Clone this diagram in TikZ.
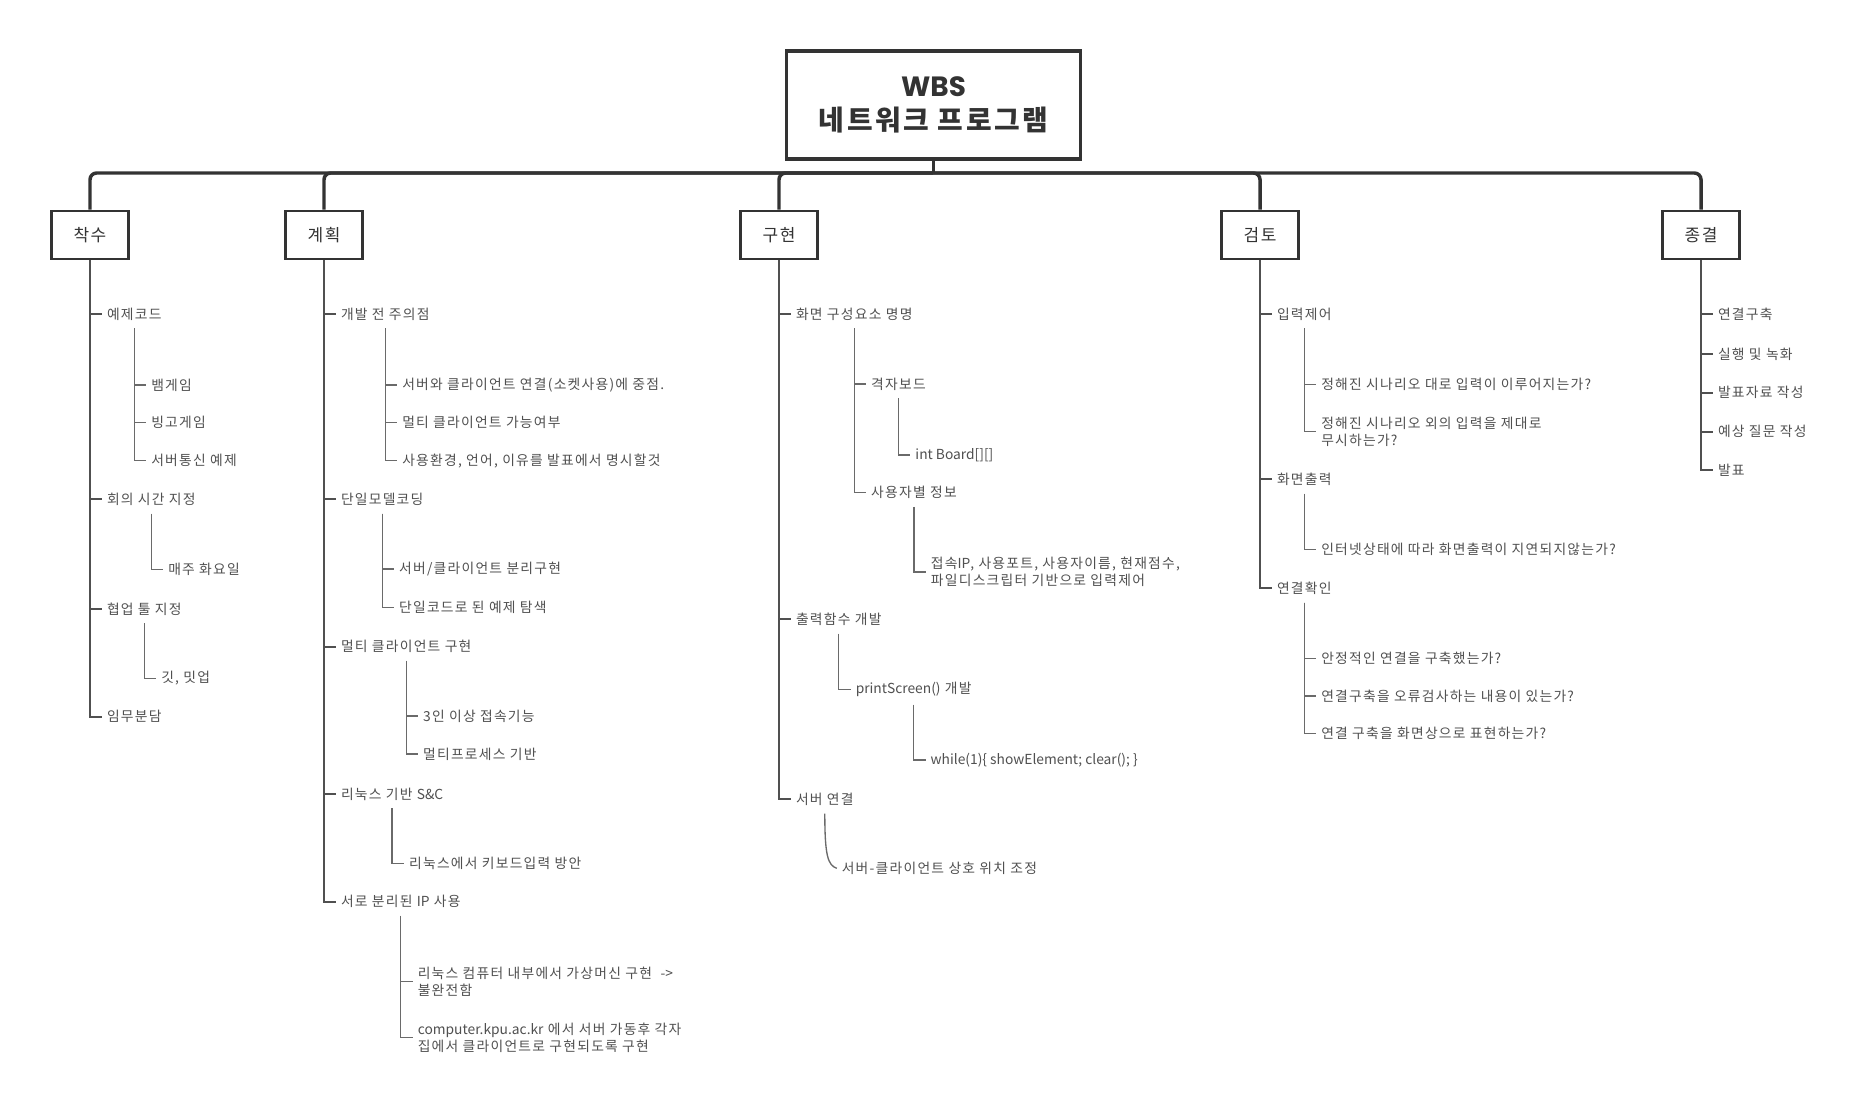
\documentclass[tikz,border=0pt]{standalone}
\usepackage{fontspec}
\setmainfont{Noto Sans CJK KR}[LetterSpace=9]
\newfontfamily\latf{Noto Sans CJK KR}
\newfontfamily\wbsf{Poppins}
\newcommand\lat[1]{{\latf #1}}
\usetikzlibrary{calc}
\definecolor{txt}{HTML}{505050}
\definecolor{dark}{HTML}{333333}
\definecolor{stemc}{HTML}{505050}
\definecolor{subc}{HTML}{6A6A6A}
\tikzset{
  rootbox/.style={draw=dark, line width=2.3pt, fill=white, minimum width=221pt, minimum height=81pt, align=center, font=\fontsize{20.9}{26}\selectfont\bfseries, text=dark, inner sep=0pt},
  catbox/.style={draw=dark, line width=1.9pt, fill=white, minimum width=57.5pt, minimum height=36pt, font=\fontsize{12.75}{15}\selectfont, text=dark, inner sep=0pt},
  it/.style={anchor=west, inner sep=0pt, outer xsep=3.75pt, outer ysep=6pt, font=\fontsize{10.35}{13.1}\selectfont, text=txt, align=left},
  busline/.style={draw=dark, line width=2.6pt, rounded corners=5pt},
  stemline/.style={draw=stemc, line width=1.3pt},
  subline/.style={draw=subc, line width=1pt},
}
\begin{document}
\begin{tikzpicture}[x=0.75pt,y=-0.75pt]
\fill[white] (0,0) rectangle (1865,1112);
\useasboundingbox (0,0) rectangle (1865,1112);

% root and categories
\node[rootbox] (root) at (933.5,105) {{\wbsf\bfseries WBS}\\네트워크 프로그램};
\coordinate (bus) at (933.5,173);
\node[catbox] (c1) at (90,235) {착수};
\node[catbox] (c2) at (324,235) {계획};
\node[catbox] (c3) at (779,235) {구현};
\node[catbox] (c4) at (1260,235) {검토};
\node[catbox] (c5) at (1701,235) {종결};

\draw[line width=2pt, draw=dark] (root.south) -- (bus);
\foreach \c in {c1,c2,c3,c4,c5} \draw[busline] (bus) -| (\c.north);

% 착수
\node[it] (a1) at (102,314) {예제코드};
\node[it] (a11) at ($(a1.south |- 0,385)+(12,0)$) {뱀게임};
\node[it] (a12) at ($(a1.south |- 0,422.7)+(12,0)$) {빙고게임};
\node[it] (a13) at ($(a1.south |- 0,460.7)+(12,0)$) {서버통신 예제};
\node[it] (a2) at (102,499.3) {회의 시간 지정};
\node[it] (a21) at ($(a2.south |- 0,569.3)+(12,0)$) {매주 화요일};
\node[it] (a3) at (102,609) {협업 툴 지정};
\node[it] (a31) at ($(a3.south |- 0,678.3)+(12,0)$) {깃, 밋업};
\node[it] (a4) at (102,716.7) {임무분담};
\foreach \n in {a1,a2,a3,a4} \draw[stemline] (c1.south) |- (\n.west);
\foreach \n in {a11,a12,a13} \draw[subline] (a1.south) |- (\n.west);
\draw[subline] (a2.south) |- (a21.west);
\draw[subline] (a3.south) |- (a31.west);

% 계획
\node[it] (b1) at (336,314) {개발 전 주의점};
\node[it] (b11) at ($(b1.south |- 0,385)+(12,0)$) {서버와 클라이언트 연결(소켓사용)에 중점.};
\node[it] (b12) at ($(b1.south |- 0,422.7)+(12,0)$) {멀티 클라이언트 가능여부};
\node[it] (b13) at ($(b1.south |- 0,460.7)+(12,0)$) {사용환경, 언어, 이유를 발표에서 명시할것};
\node[it] (b2) at (336,499.3) {단일모델코딩};
\node[it] (b21) at ($(b2.south |- 0,569)+(12,0)$) {서버/클라이언트 분리구현};
\node[it] (b22) at ($(b2.south |- 0,607.3)+(12,0)$) {단일코드로 된 예제 탐색};
\node[it] (b3) at (336,646.7) {멀티 클라이언트 구현};
\node[it] (b31) at ($(b3.south |- 0,716)+(12,0)$) {3인 이상 접속기능};
\node[it] (b32) at ($(b3.south |- 0,754)+(12,0)$) {멀티프로세스 기반};
\node[it] (b4) at (336,794) {리눅스 기반 \lat{S\&C}};
\node[it] (b41) at ($(b4.south |- 0,863.3)+(12,0)$) {리눅스에서 키보드입력 방안};
\node[it] (b5) at (336,901.7) {서로 분리된 \lat{IP} 사용};
\node[it] (b51) at ($(b5.south |- 0,981.5)+(12,0)$) {리눅스 컴퓨터 내부에서 가상머신 구현 \ \lat{->}\\불완전함};
\node[it] (b52) at ($(b5.south |- 0,1037.8)+(12,0)$) {\lat{computer.kpu.ac.kr} 에서 서버 가동후 각자\\집에서 클라이언트로 구현되도록 구현};
\foreach \n in {b1,b2,b3,b4,b5} \draw[stemline] (c2.south) |- (\n.west);
\foreach \n in {b11,b12,b13} \draw[subline] (b1.south) |- (\n.west);
\foreach \n in {b21,b22} \draw[subline] (b2.south) |- (\n.west);
\foreach \n in {b31,b32} \draw[subline] (b3.south) |- (\n.west);
\draw[subline] (b4.south) |- (b41.west);
\foreach \n in {b51,b52} \draw[subline] (b5.south) |- (\n.west);

% 구현
\node[it] (d1) at (791,314) {화면 구성요소 명명};
\node[it] (d11) at ($(d1.south |- 0,384)+(12,0)$) {격자보드};
\node[it] (d111) at ($(d11.south |- 0,455)+(12,0)$) {\lat{int Board[][]}};
\node[it] (d12) at ($(d1.south |- 0,492.7)+(12,0)$) {사용자별 정보};
\node[it] (d121) at ($(d12.south |- 0,572)+(12,0)$) {접속\lat{IP}, 사용포트, 사용자이름, 현재점수,\\파일디스크립터 기반으로 입력제어};
\node[it] (d2) at (791,619.3) {출력함수 개발};
\node[it] (d21) at ($(d2.south |- 0,689.3)+(12,0)$) {\lat{printScreen()} 개발};
\node[it] (d211) at ($(d21.south |- 0,760)+(12,0)$) {\lat{while(1)\{ showElement; clear(); \}}};
\node[it] (d3) at (791,799.3) {서버 연결};
\node[it] (d31) at ($(d3.south |- 0,868.3)+(12,0)$) {서버-클라이언트 상호 위치 조정};
\foreach \n in {d1,d2,d3} \draw[stemline] (c3.south) |- (\n.west);
\foreach \n in {d11,d12} \draw[subline] (d1.south) |- (\n.west);
\draw[subline] (d11.south) |- (d111.west);
\draw[subline] (d12.south) |- (d121.west);
\draw[subline] (d2.south) |- (d21.west);
\draw[subline] (d21.south) |- (d211.west);
\draw[subline] (d3.south) .. controls +(0,42) and +(-9,-3) .. (d31.west);

% 검토
\node[it] (e1) at (1272,314) {입력제어};
\node[it] (e11) at ($(e1.south |- 0,384.3)+(12,0)$) {정해진 시나리오 대로 입력이 이루어지는가?};
\node[it] (e12) at ($(e1.south |- 0,431.8)+(12,0)$) {정해진 시나리오 외의 입력을 제대로\\무시하는가?};
\node[it] (e2) at (1272,479.3) {화면출력};
\node[it] (e21) at ($(e2.south |- 0,549.3)+(12,0)$) {인터넷상태에 따라 화면출력이 지연되지않는가?};
\node[it] (e3) at (1272,588.3) {연결확인};
\node[it] (e31) at ($(e3.south |- 0,658.3)+(12,0)$) {안정적인 연결을 구축했는가?};
\node[it] (e32) at ($(e3.south |- 0,696)+(12,0)$) {연결구축을 오류검사하는 내용이 있는가?};
\node[it] (e33) at ($(e3.south |- 0,733.3)+(12,0)$) {연결 구축을 화면상으로 표현하는가?};
\foreach \n in {e1,e2,e3} \draw[stemline] (c4.south) |- (\n.west);
\foreach \n in {e11,e12} \draw[subline] (e1.south) |- (\n.west);
\draw[subline] (e2.south) |- (e21.west);
\foreach \n in {e31,e32,e33} \draw[subline] (e3.south) |- (\n.west);

% 종결
\node[it] (f1) at (1713,314) {연결구축};
\node[it] (f2) at (1713,354) {실행 및 녹화};
\node[it] (f3) at (1713,392.7) {발표자료 작성};
\node[it] (f4) at (1713,431.7) {예상 질문 작성};
\node[it] (f5) at (1713,470) {발표};
\foreach \n in {f1,f2,f3,f4,f5} \draw[stemline] (c5.south) |- (\n.west);
\end{tikzpicture}
\end{document}
